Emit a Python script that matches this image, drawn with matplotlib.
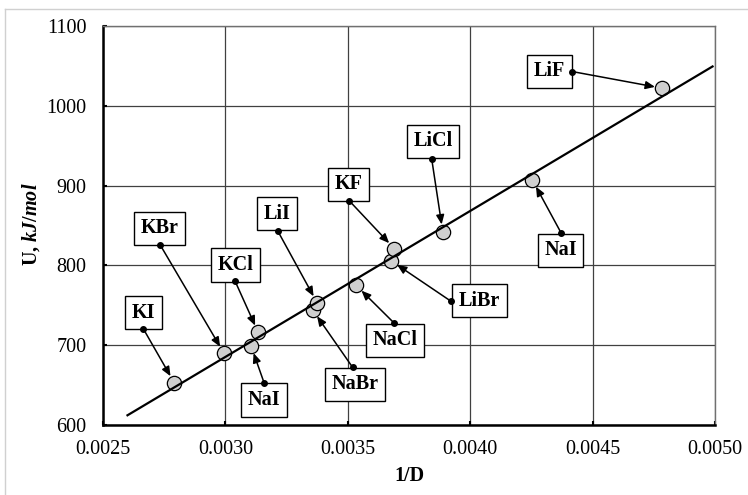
import numpy as np
import matplotlib
matplotlib.use("Agg")
import matplotlib.pyplot as plt
from matplotlib.lines import Line2D

plt.rcParams['font.family'] = ['Liberation Serif', 'DejaVu Serif']
plt.rcParams['mathtext.fontset'] = 'custom'
plt.rcParams['mathtext.it'] = 'Liberation Serif:italic:bold'
plt.rcParams['mathtext.bf'] = 'Liberation Serif:bold'
plt.rcParams['mathtext.rm'] = 'Liberation Serif:bold'

# ---- data ----
names = ['KI', 'KBr', 'NaI', 'KCl', 'NaBr', 'LiI', 'NaCl', 'LiBr', 'KF', 'LiCl', 'NaI', 'LiF']
inv_d = [0.002791, 0.002994, 0.003105, 0.003134, 0.003357, 0.003375,
         0.003534, 0.003676, 0.003690, 0.003888, 0.004254, 0.004785]
u_kj = [653, 690, 699, 716, 744, 753, 775, 806, 821, 842, 907, 1022]

# label box centres and arrow start points (data coordinates)
label_x = [0.002665, 0.002730, 0.003158, 0.003040, 0.003528, 0.003211,
           0.003692, 0.004038, 0.003504, 0.003848, 0.004369, 0.004324]
label_y = [740.6, 846.3, 631.3, 800.6, 651.0, 865.0,
           706.3, 755.9, 901.6, 955.4, 818.8, 1043.4]
anchor_x = [0.002665, 0.002733, 0.003158, 0.003040, 0.003520, 0.003214,
            0.003690, 0.003920, 0.003505, 0.003843, 0.004371, 0.004417]
anchor_y = [720.4, 826.0, 652.9, 780.0, 672.1, 843.1,
            727.5, 755.4, 881.3, 932.9, 840.9, 1042.9]

x_ticks = [0.0025, 0.0030, 0.0035, 0.0040, 0.0045, 0.0050]
y_ticks = [600, 700, 800, 900, 1000, 1100]
fit_range = [0.0026, 0.00499]

# ---- figure ----
W, H = 748, 495
fig = plt.figure(figsize=(W / 100, H / 100), dpi=100)
ax = fig.add_axes([103 / W, 1 - 425 / H, 612 / W, 399 / H])

ax.set_xlim(x_ticks[0], x_ticks[-1])
ax.set_ylim(y_ticks[0], y_ticks[-1])
ax.set_xticks(x_ticks)
ax.set_yticks(y_ticks)
ax.set_xticklabels([f'{v:.4f}' for v in x_ticks])
ax.set_yticklabels([str(v) for v in y_ticks])
ax.tick_params(axis='both', direction='in', length=3, width=1.5, labelsize=14.5)
ax.tick_params(axis='x', pad=11)
ax.tick_params(axis='y', pad=12)

ax.grid(True, color='#404040', lw=0.9, zorder=0)
ax.set_axisbelow(True)
for s in ['left', 'bottom']:
    ax.spines[s].set_linewidth(1.8)
    ax.spines[s].set_color('black')
for s in ['top', 'right']:
    ax.spines[s].set_linewidth(1.0)
    ax.spines[s].set_color('#707070')

# markers
ax.plot(inv_d, u_kj, 'o', ms=10.3, mfc='#cfcfcf', mec='black', mew=0.9, zorder=3,
        clip_on=False)

# linear trend
coef = np.polyfit(inv_d, u_kj, 1)
fx = np.array(fit_range)
ax.plot(fx, np.polyval(coef, fx), color='black', lw=1.6, zorder=4)

# annotations
for name, px, py, lx, ly, axx, ayy in zip(names, inv_d, u_kj, label_x, label_y,
                                          anchor_x, anchor_y):
    ax.annotate('', xy=(px, py), xytext=(axx, ayy),
                arrowprops=dict(arrowstyle='-|>,head_length=0.7,head_width=0.3',
                                color='black', lw=1.1, shrinkA=0, shrinkB=5.4,
                                mutation_scale=8),
                zorder=5)
    ax.text(lx, ly, name, ha='center', va='center', fontsize=14.5,
            fontweight='bold', zorder=7,
            bbox=dict(boxstyle='square,pad=0.33', fc='white', ec='black', lw=1.0))
    ax.plot([axx], [ayy], 'o', ms=4, color='black', zorder=8)

# axis labels
fig.text(409 / W, 1 - 476 / H, '1/D', ha='center', va='center',
         fontsize=14.5, fontweight='bold')
fig.text(31 / W, 1 - 224 / H, r'U, $\mathit{kJ/mol}$', ha='center', va='center',
         rotation=90, fontsize=14.5, fontweight='bold')

# outer light frame (partial)
fig.add_artist(Line2D([5.3 / W, 1.0], [1 - 9.3 / H, 1 - 9.3 / H],
                      transform=fig.transFigure, color='#d0d0d0', lw=1))
fig.add_artist(Line2D([5.3 / W, 5.3 / W], [1 - 9.3 / H, 0.0],
                      transform=fig.transFigure, color='#d0d0d0', lw=1))

fig.savefig('out.png', dpi=100)
